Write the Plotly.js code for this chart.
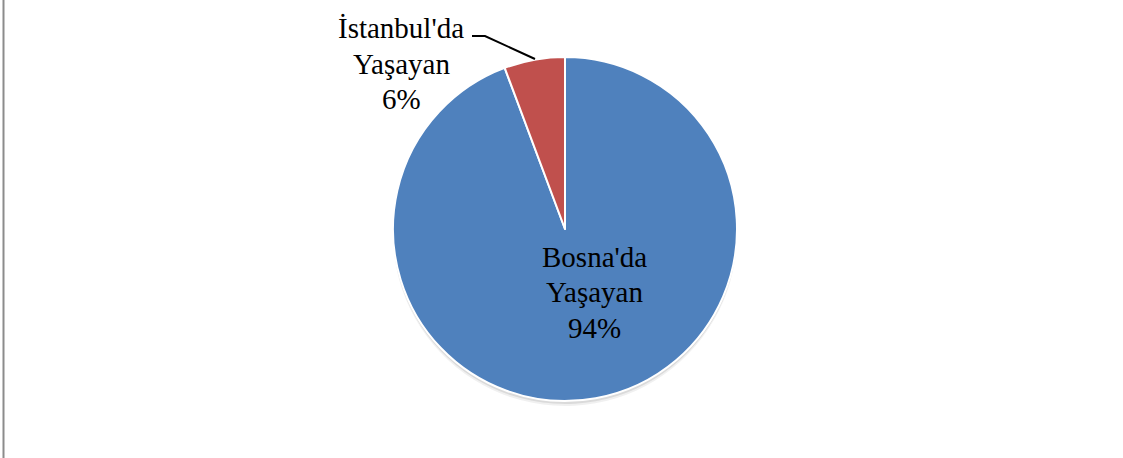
<!DOCTYPE html>
<html>
<head>
<meta charset="utf-8">
<script src="https://cdn.plot.ly/plotly-3.0.1.min.js"></script>
<style>
  html, body { margin: 0; padding: 0; background: #ffffff; }
  #chart { width: 1123px; height: 458px; }
</style>
</head>
<body>
<div id="chart"></div>
<script>
// Data
const categories = ["Bosna'da Yaşayan", "İstanbul'da Yaşayan"];
const values = [94.3, 5.7];
const colors = ["#4f81bd", "#c0504d"];

const W = 1123, H = 458;
const cx = 565, cy = 229, R = 172;
const FONT = "Liberation Serif, Times New Roman, serif";

const domain = {
  x: [(cx - R) / W, (cx + R) / W],
  y: [(H - (cy + R)) / H, (H - (cy - R)) / H]
};

const total = values.reduce((a, b) => a + b, 0);
const pct = values.map(v => Math.round(v / total * 100) + '%');

// label lines per category: name split in two lines + percentage
const labelLines = categories.map((c, i) => c.split(' ').concat([pct[i]]));

// label anchor (pixel centre of first line) per category, and line spacing
const labelPos = [[594, 256.5], [401, 28]];
const LINE = 35.5;

const shadow = (dy, alpha) => ({
  type: 'pie',
  values: values,
  labels: categories,
  sort: false,
  direction: 'clockwise',
  domain: { x: domain.x, y: [domain.y[0] - dy / H, domain.y[1] - dy / H] },
  marker: { colors: values.map(() => `rgba(0,0,0,${alpha})`), line: { width: 0 } },
  textinfo: 'none',
  hoverinfo: 'skip',
  showlegend: false
});

const traces = [
  shadow(5, 0.06),
  shadow(3, 0.09),
  {
    type: 'pie',
    values: values,
    labels: categories,
    textinfo: 'none',
    sort: false,
    direction: 'clockwise',
    domain: domain,
    marker: { colors: colors, line: { color: '#ffffff', width: 2 } },
    showlegend: false
  }
];

const annotations = [];
labelLines.forEach((lines, i) => {
  lines.forEach((t, k) => {
    annotations.push({
      xref: 'paper', yref: 'paper',
      x: labelPos[i][0] / W, y: 1 - (labelPos[i][1] + k * LINE) / H,
      xanchor: 'center', yanchor: 'middle',
      text: t,
      showarrow: false,
      font: { family: FONT, size: 29, color: '#000000' }
    });
  });
});

const layout = {
  width: W,
  height: H,
  margin: { l: 0, r: 0, t: 0, b: 0 },
  paper_bgcolor: '#ffffff',
  plot_bgcolor: '#ffffff',
  showlegend: false,
  annotations: annotations,
  shapes: [
    { type: 'path', xref: 'paper', yref: 'paper',
      path: `M ${472 / W} ${1 - 36 / H} L ${485 / W} ${1 - 36 / H} L ${535 / W} ${1 - 59 / H}`,
      line: { color: '#000000', width: 2 } },
    { type: 'line', xref: 'paper', yref: 'paper',
      x0: 3.5 / W, x1: 3.5 / W, y0: 0, y1: 1,
      line: { color: '#8c8c8c', width: 2 } }
  ]
};

Plotly.newPlot('chart', traces, layout, { displayModeBar: false, staticPlot: true });
</script>
</body>
</html>
